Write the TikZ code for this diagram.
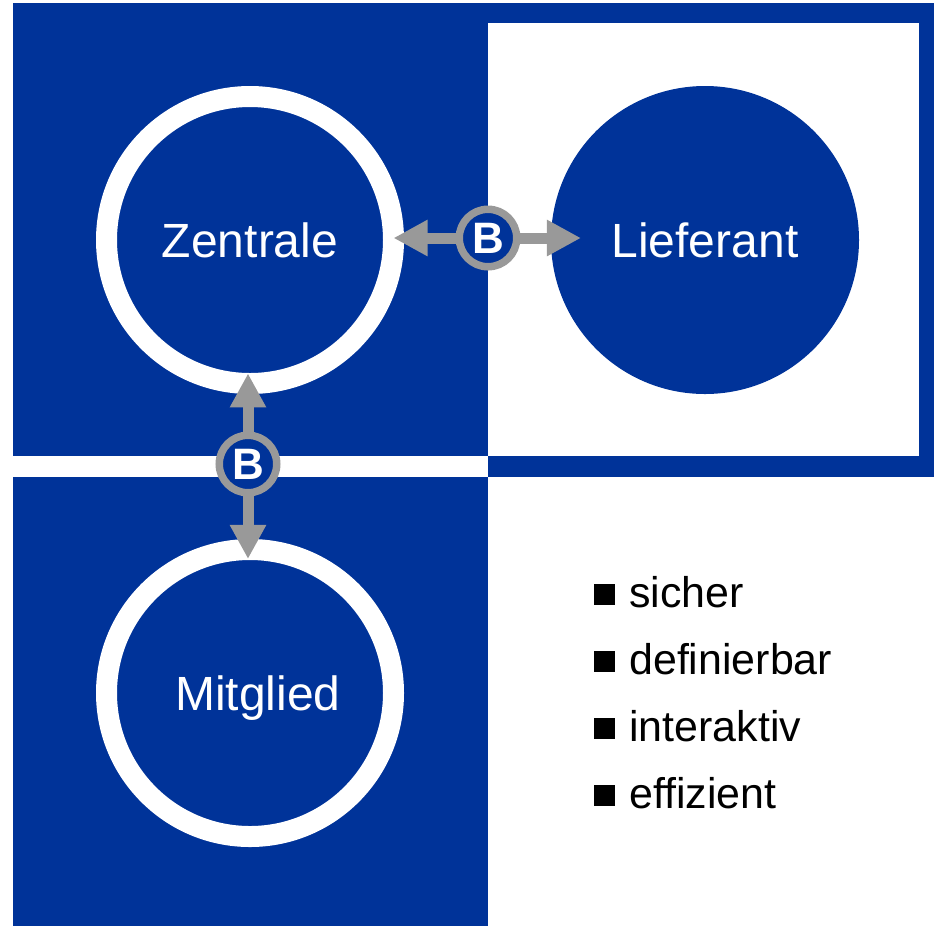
\documentclass[tikz,border=0pt]{standalone}
\usepackage{fontspec}
\setmainfont{Liberation Sans}
\usetikzlibrary{arrows.meta}
\definecolor{brandblue}{RGB}{0,51,153}
\definecolor{linkgray}{RGB}{153,153,153}

\begin{document}
\begin{tikzpicture}[x=0.75pt,y=-0.75pt,
  hub/.style={circle, fill=brandblue, draw=white, line width=15.75pt,
    minimum size=215.25pt, inner sep=0pt, outer sep=0pt, text=white,
    text depth=0pt, font=\fontsize{36}{40}\selectfont},
  badge/.style={circle, fill=brandblue, draw=linkgray, line width=5.625pt,
    minimum size=43.125pt, inner sep=0pt, outer sep=0pt, text=white,
    font=\fontsize{33}{36}\selectfont\bfseries},
  link/.style={draw=linkgray, line width=8.25pt,
    -{Triangle[length=25.5pt,width=25.5pt]}},
  bulletbox/.style={rectangle, fill=black, minimum size=15.75pt, inner sep=0pt},
  itemtext/.style={anchor=base west, inner sep=0pt,
    font=\fontsize{32.2}{36}\selectfont}
]
  \useasboundingbox (0,0) rectangle (934,926);

  % background panels
  \fill[brandblue] (13,2.5) rectangle (934,477);
  \fill[brandblue] (13,477) rectangle (488,926);
  \fill[white] (488,23) rectangle (919,455.5);
  \fill[white] (13,455.5) rectangle (488,477);

  % partners
  \node[hub] (zentrale) at (250,240) {Zentrale};
  \node[hub, draw=brandblue] (lieferant) at (705,240) {Lieferant};
  \node[hub] (mitglied) at (250,693) {\hspace*{12pt}Mitglied};

  % connections
  \coordinate (b1pos) at (488,238);
  \coordinate (b2pos) at (248,464);
  \draw[link] (b1pos) -- (b1pos -| zentrale.east);
  \draw[link] (b1pos) -- ([xshift=14.6pt]b1pos -| lieferant.west);
  \draw[link] (b2pos) -- ([yshift=7.6pt]b2pos |- zentrale.south);
  \draw[link] (b2pos) -- ([yshift=-7.1pt]b2pos |- mitglied.north);
  \node[badge] (b1) at (b1pos) {B};
  \node[badge] (b2) at (b2pos) {B};

  % feature list
  \node[bulletbox] (s1) at (604,594) {};
  \node[bulletbox] (s2) at (604,661) {};
  \node[bulletbox] (s3) at (604,728) {};
  \node[bulletbox] (s4) at (604,795) {};
  \node[itemtext] (t1) at (629,607) {sicher};
  \node[itemtext] (t2) at (629,674) {definierbar};
  \node[itemtext] (t3) at (629,741) {interaktiv};
  \node[itemtext] (t4) at (629,808) {effizient};
\end{tikzpicture}
\end{document}
